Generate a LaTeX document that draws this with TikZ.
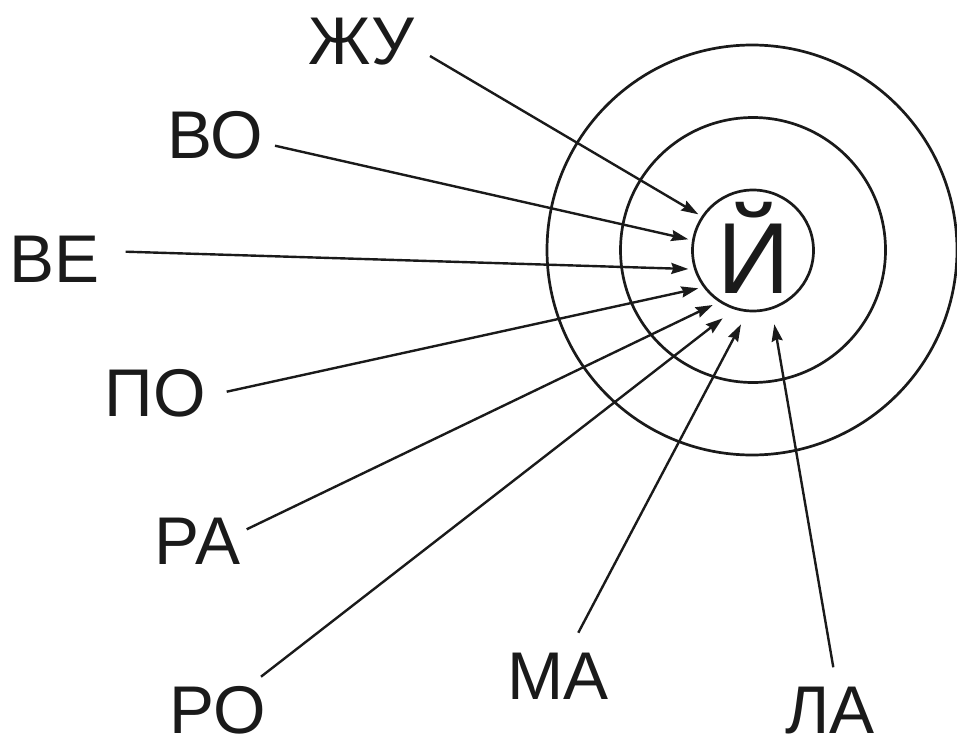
\documentclass[tikz,border=0pt]{standalone}
\usepackage{fontspec}
\setmainfont{Liberation Sans}
\usetikzlibrary{arrows.meta}
\definecolor{ink}{HTML}{1A1A1A}
\tikzset{
  ring/.style={circle, draw=ink, line width=2.7pt, inner sep=0pt},
  lbl/.style={anchor=base, inner sep=0pt, text=ink, font=\fontsize{67.5}{67.5}\selectfont},
  arr/.style={draw=ink, line width=2.4pt, -{Stealth[length=17pt, width=11pt, inset=2pt]}}
}
\begin{document}
\begin{tikzpicture}[x=1pt, y=-1pt]
\useasboundingbox (0,0) rectangle (957,738);
% rings
\node[ring, minimum size=410pt] (outer) at (752,250) {};
\node[ring, minimum size=265pt] (middle) at (753,250) {};
\node[ring, minimum size=121pt] (inner) at (753,250.5) {};
\node[anchor=base, inner sep=0pt, text=ink, font=\fontsize{101}{101}\selectfont] (yi) at (754,293.3) {Й};
% labels
\node[lbl] (zhu) at (361.5,65) {ЖУ};
\node[lbl] (vo) at (215,158.3) {ВО};
\node[lbl] (ve) at (54.7,282.7) {ВЕ};
\node[lbl] (po) at (155.5,416) {ПО};
\node[lbl] (ra) at (197.3,564.3) {РА};
\node[lbl] (ro) at (218,733) {РО};
\node[lbl] (ma) at (558,699) {МА};
\node[lbl] (la) at (830,733) {ЛА};
% connector ends
\coordinate (zhuS) at (430,56);     \coordinate (zhuT) at (698.3,214.3);
\coordinate (voS) at (275,145.7);   \coordinate (voT) at (688.3,239.3);
\coordinate (veS) at (125.7,251.7); \coordinate (veT) at (688.3,269);
\coordinate (poS) at (226.7,391.7); \coordinate (poT) at (698.3,288.3);
\coordinate (raS) at (246.7,529.3); \coordinate (raT) at (712.7,305);
\coordinate (roS) at (261,676.7);   \coordinate (roT) at (722.7,318.3);
\coordinate (maS) at (578.3,632.7); \coordinate (maT) at (741,324.3);
\coordinate (laS) at (833.3,667.3); \coordinate (laT) at (774.3,324.3);
% connectors
\draw[arr] (zhuS) -- (zhuT);
\draw[arr] (voS) -- (voT);
\draw[arr] (veS) -- (veT);
\draw[arr] (poS) -- (poT);
\draw[arr] (raS) -- (raT);
\draw[arr] (roS) -- (roT);
\draw[arr] (maS) -- (maT);
\draw[arr] (laS) -- (laT);
\end{tikzpicture}
\end{document}
